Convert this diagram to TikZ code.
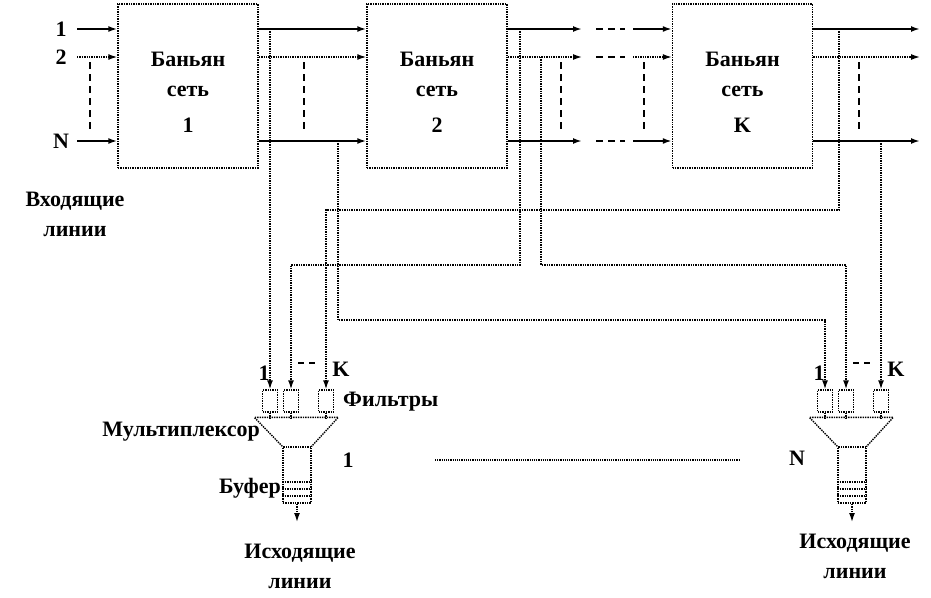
\documentclass[tikz,border=0pt]{standalone}
\usepackage{fontspec}
\setmainfont{Liberation Serif}
\usetikzlibrary{arrows.meta}
\tikzset{>/.tip={Latex[length=9pt,width=6pt]},
  banyan/.style={draw,densely dotted,line width=1.4pt,minimum width=140pt,minimum height=164pt,inner sep=0pt},
  txt/.style={font=\fontsize{22}{30}\selectfont\bfseries,align=center,inner sep=0pt},
  mainline/.style={line width=1.8pt},
  auxline/.style={densely dotted,line width=1.4pt},
  route/.style={densely dotted,line width=1.4pt},
  gap/.style={dash pattern=on 7pt off 5pt,line width=1.4pt},
  filt/.style={draw,densely dotted,line width=1.4pt,minimum width=15pt,minimum height=22pt,inner sep=0pt},
  buf/.style={draw,densely dotted,line width=1.4pt,minimum width=28pt,minimum height=56pt,inner sep=0pt}}

\begin{document}
\begin{tikzpicture}[x=1pt,y=-1pt]
\useasboundingbox (0,0) rectangle (931,597);
% banyan networks
\node[banyan] (n1) at (188,86) {};
\node[banyan] (n2) at (437,86) {};
\node[banyan] (nk) at (742.5,86) {};
\node[txt] (l1) at (188,92) {Баньян\\сеть\\[6pt]1};
\node[txt] (l2) at (437,92) {Баньян\\сеть\\[6pt]2};
\node[txt] (lk) at (742.5,92) {Баньян\\сеть\\[6pt]K};

% lines between the networks
\foreach \y/\s/\lab in {29/mainline/1,57/auxline/2,141/mainline/N}
{
  \node[txt] (in\lab) at (61,\y) {\lab};
  \coordinate (a\lab) at (77,\y);
  \coordinate (b\lab) at (582,\y);
  \coordinate (c\lab) at (596,\y);
  \coordinate (d\lab) at (625,\y);
  \coordinate (e\lab) at (633,\y);
  \coordinate (o\lab) at (920,\y);
  \draw[\s,->] (a\lab) -- (a\lab -| n1.west);
  \draw[\s,->] (a\lab -| n1.east) -- (a\lab -| n2.west);
  \draw[\s,->] (a\lab -| n2.east) -- (b\lab);
  \draw[gap] (c\lab) -- (d\lab);
  \draw[\s,->] (e\lab) -- (e\lab -| nk.west);
  \draw[\s,->] (a\lab -| nk.east) -- (o\lab);
}
\foreach \x in {90,304,561,644,859}
  \draw[gap] (\x,62) -- (\x,133);
\node[txt] (inl) at (75,214) {Входящие\\линии};

% multiplexers
\foreach \m/\x/\yo in {a/297/566,b/852/556}
{
  \node[buf] (buf\m) at (\x,475) {};
  \node[filt] (f1\m) at (\x-27,401) {};
  \node[filt] (f2\m) at (\x-6,401) {};
  \node[filt] (fk\m) at (\x+29,401) {};
  \draw[route] (buf\m.north west) -- ++(-28,-29) -- ++(84,0) -- (buf\m.north east);
  \foreach \f in {f1,f2,fk}
    \draw[route] (\f\m.south) -- ++(0,6);
  \foreach \yy in {482,489,496}
    \draw[route] (buf\m.west |- 0,\yy) -- (buf\m.east |- 0,\yy);
  \coordinate (out\m) at (\x,522);
  \draw[route,->] (buf\m.south) -- (out\m);
  \node[txt] (k1\m) at (\x-33,373) {1};
  \node[txt] (kk\m) at (\x+44,369) {K};
  \draw[gap,dash pattern=on 6pt off 5pt] (\x+1,363) -- (\x+18,363);
  \node[txt] (ex\m) at (\x+3,\yo) {Исходящие\\линии};
}
\node[txt,anchor=west] (filters) at (343,402) {Фильтры};
\node[txt,anchor=east] (mux) at (260,432) {Мультиплексор};
\node[txt,anchor=east] (bufl) at (281,488) {Буфер};
\node[txt] (m1) at (348,460) {1};
\node[txt] (mN) at (797,458) {N};
\coordinate (dl) at (435,460);
\coordinate (dr) at (740,460);
\draw[densely dotted,line width=1.2pt] (dl) -- (dr);

% taps to the filters
\coordinate (t1a) at (270,29);
\coordinate (tNa) at (338,141);
\coordinate (t1b) at (520,29);
\coordinate (t2b) at (541,57);
\coordinate (t1k) at (839,29);
\coordinate (tNk) at (881,141);
\draw[route,->] (t1a) -- (f1a.north);
\draw[route,->] (tNa) -- ++(0,179) -| (f1b.north);
\draw[route,->] (t1b) -- ++(0,236) -| (f2a.north);
\draw[route,->] (t2b) -- ++(0,208) -| (f2b.north);
\draw[route,->] (t1k) -- ++(0,181) -| (fka.north);
\draw[route,->] (tNk) -- (fkb.north);
\end{tikzpicture}
\end{document}
